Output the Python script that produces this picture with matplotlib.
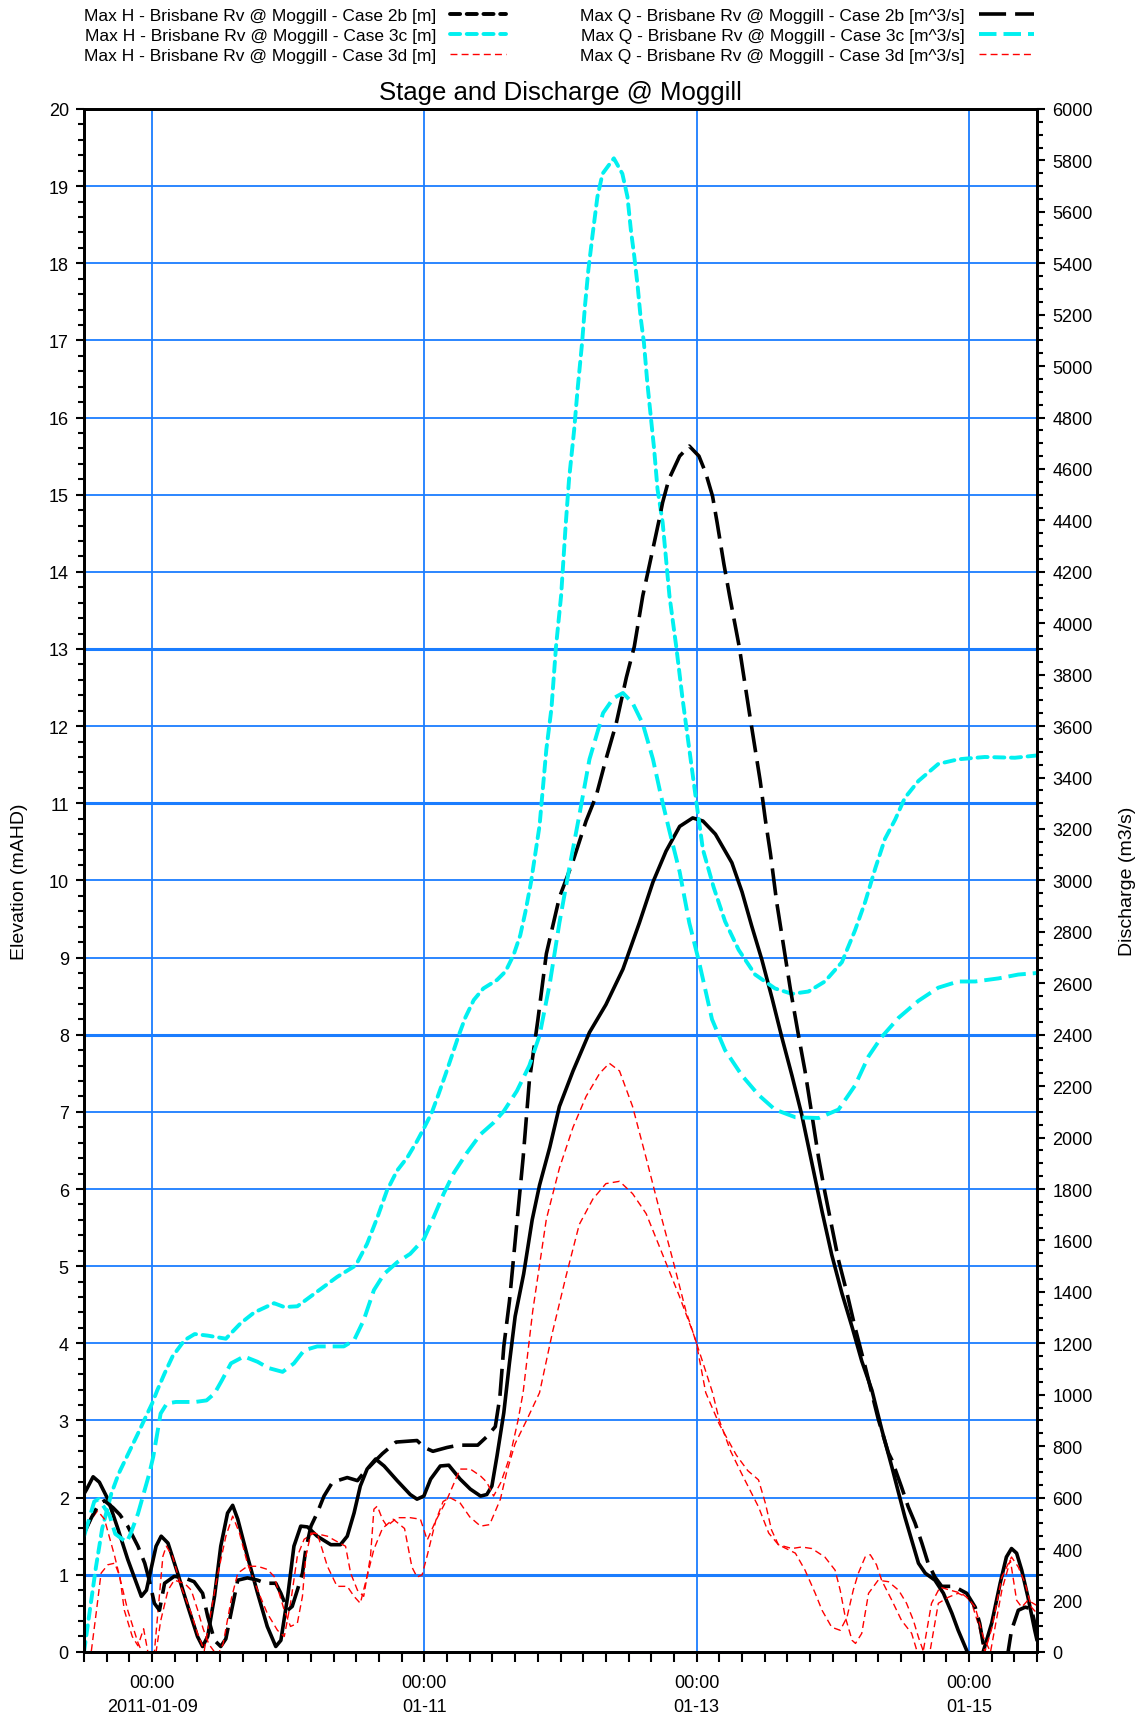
import numpy as np
import matplotlib
matplotlib.use("Agg")
import matplotlib.pyplot as plt
import matplotlib.dates as mdates
from matplotlib.lines import Line2D
from matplotlib.ticker import MultipleLocator, FixedLocator, FixedFormatter

plt.rcParams['font.family'] = ['Liberation Sans', 'DejaVu Sans']

# ---------------- data (hours since 2011-01-08 12:00) ----------------
t0 = np.datetime64('2011-01-08T12:00')

# Max H - Case 2b [m]
t_h2b = [0, 0.4, 1.6, 2.7, 4.2, 6, 7.7, 10.1, 11, 11.8, 12.7, 13.6, 14.8, 16.5, 18.3, 20, 20.9, 21.8,
         23, 24.1, 25.3, 26.2, 27.1, 28.8, 30.6, 32.3, 33.8, 34.7, 35.9, 37, 38.2, 39.4, 41.1, 43.5,
         45.2, 46.4, 47.6, 48.7, 49.9, 51.4, 52.9, 55.2, 57.5, 58.7, 59.9, 61.1, 62.8, 64.3, 66.3,
         68.1, 69.9, 71, 71.9, 72.8, 74, 75, 76, 77.5, 79, 80.3, 82.1, 83.8, 86.2, 89.1, 92, 95,
         97.9, 100.3, 102.6, 105, 107.3, 109.1, 111.3, 114.2, 116, 117.7, 119.5, 121.3, 123, 124.8,
         126.5, 128.3, 130.1, 131.8, 133.6, 135.4, 137.1, 138.9, 140.6, 142.4, 143.6, 144.7, 145.9,
         147.1, 148.3, 150, 151.5, 153, 154.1, 155.6, 156.5, 157.5, 158.5, 160, 161.5, 162.6, 163.5,
         164.4, 165.3, 166.4, 167.6, 168]
h_h2b = [2.05, 2.1, 2.27, 2.2, 1.98, 1.59, 1.2, 0.72, 0.8, 1.07, 1.37, 1.5, 1.41, 1.02, 0.59, 0.2, 0.07,
         0.2, 0.72, 1.37, 1.8, 1.9, 1.72, 1.24, 0.76, 0.33, 0.07, 0.15, 0.72, 1.37, 1.63, 1.62, 1.5,
         1.39, 1.39, 1.5, 1.8, 2.15, 2.37, 2.5, 2.41, 2.22, 2.04, 1.98, 2.02, 2.24, 2.41, 2.42, 2.24,
         2.11, 2.02, 2.04, 2.15, 2.54, 3.1, 3.75, 4.35, 4.9, 5.6, 6.05, 6.54, 7.07, 7.53, 8.03, 8.39,
         8.85, 9.45, 9.98, 10.38, 10.7, 10.81, 10.77, 10.6, 10.23, 9.85, 9.41, 8.97, 8.47, 7.97, 7.47,
         6.97, 6.34, 5.71, 5.15, 4.65, 4.21, 3.77, 3.39, 2.89, 2.4, 2.06, 1.75, 1.45, 1.15, 1.02, 0.93,
         0.76, 0.5, 0.28, 0.02, -0.2, -0.2, 0.0, 0.37, 0.89, 1.23, 1.34, 1.28, 1.06, 0.71, 0.28, 0.15]

# Max H - Case 3c [m]
t_h3c = [0, 1.1, 2.1, 3.2, 4.8, 6.1, 7.8, 9.5, 10.9, 12, 12.9, 14.2, 15.6, 17.7, 19.5, 21.8, 25, 27.6,
         30, 33.5, 35.3, 37.6, 41.1, 44.6, 47.9, 49.9, 51.7, 53.4, 55.2, 57, 58.7, 60, 61.3, 62.5,
         63.7, 64.9, 66, 67.2, 68.7, 70.4, 72.8, 74.3, 75.7, 76.9, 77.8, 78.8, 80.3, 81.5, 82.4, 83.2,
         84.1, 84.9, 85.5, 86.4, 87, 87.8, 88.3, 88.9, 89.6, 90.5, 91.4, 93.4, 94.9, 95.8, 96.4, 97,
         97.6, 98.1, 98.7, 99.3, 99.9, 100.5, 101.1, 102, 103.2, 104.4, 105.5, 106.7, 107.9, 109.1,
         111, 113, 115.4, 118.3, 121.8, 124.8, 127.7, 130.6, 133.6, 135.9, 137.7, 139.5, 141.2, 143,
         144.7, 147.1, 150.6, 154.1, 158.8, 164.1, 168]
h_h3c = [0.0, 0.58, 1.1, 1.6, 2.05, 2.31, 2.57, 2.83, 3.05, 3.22, 3.39, 3.61, 3.83, 4.04, 4.12, 4.1,
         4.06, 4.26, 4.4, 4.52, 4.47, 4.48, 4.67, 4.86, 5.01, 5.29, 5.63, 5.98, 6.24, 6.41, 6.62, 6.8,
         6.99, 7.23, 7.48, 7.74, 7.98, 8.22, 8.45, 8.6, 8.71, 8.82, 9.03, 9.29, 9.59, 9.98, 10.71, 11.7,
         12.23, 13.03, 13.69, 14.6, 15.2, 15.84, 16.36, 16.97, 17.44, 17.91, 18.34, 18.86, 19.16,
         19.36, 19.16, 18.86, 18.43, 18.09, 17.7, 17.31, 16.97, 16.45, 16.02, 15.59, 15.07, 14.64,
         13.69, 13.03, 12.36, 11.7, 11.04, 10.4, 9.91, 9.47, 9.1, 8.78, 8.6, 8.53, 8.56, 8.69, 8.94,
         9.35, 9.72, 10.16, 10.54, 10.79, 11.07, 11.29, 11.51, 11.57, 11.6, 11.59, 11.62]

# Max H - Case 3d [m]
t_h3d = [0, 1.3, 2.4, 3.6, 5.4, 7.7, 9.5, 10.5, 12.4, 13.9, 14.5, 15.6, 17.1, 18.9, 20, 21.2, 21.8,
         23.5, 25, 26.2, 27.4, 28.8, 30.6, 32.3, 34.1, 35.3, 36.4, 37.6, 38.8, 40.5, 42.9, 44.6, 46.1,
         47, 48.2, 49.3, 50.5, 51.1, 51.7, 52.6, 53.4, 55.2, 57.5, 59.3, 60.5, 62, 64, 66.3, 68.1,
         69.9, 71, 72.2, 73.5, 75.1, 76.5, 77.4, 79.1, 81.5, 83.8, 86.2, 88.5, 90.9, 92.6, 94.4, 96.7,
         99.1, 101.4, 103.8, 106.1, 107.9, 109.6, 112, 115, 117, 118.9, 120.1, 121.2, 122.4, 124.8,
         126.5, 128.3, 130.6, 132.4, 133.3, 134.2, 135.4, 136, 137.1, 138.3, 140, 141.8, 143.6, 145,
         146.2, 147.1, 148, 149, 150.6, 152.4, 154.1, 155.6, 156.5, 157.6, 158.8, 160, 161.8, 163.5,
         164.7, 165.9, 167, 168]
h_h3d = [1.5, 1.72, 1.83, 1.72, 1.24, 0.54, 0.12, -0.05, 0.0, 1.24, 1.37, 1.24, 0.85, 0.5, 0.24, 0.02,
         0.28, 0.98, 1.5, 1.76, 1.54, 1.15, 0.8, 0.5, 0.28, 0.2, 0.63, 1.24, 1.46, 1.54, 1.5, 1.43,
         1.37, 1.02, 0.8, 0.72, 1.24, 1.85, 1.89, 1.72, 1.63, 1.74, 1.74, 1.72, 1.45, 1.7, 1.98, 2.37,
         2.37, 2.28, 2.2, 2.02, 2.2, 2.54, 3.0, 3.36, 4.42, 5.61, 6.27, 6.8, 7.2, 7.5, 7.63, 7.53,
         7.07, 6.4, 5.74, 5.08, 4.42, 4.02, 3.36, 2.95, 2.55, 2.35, 2.23, 1.93, 1.58, 1.39, 1.34,
         1.36, 1.34, 1.23, 1.06, 0.8, 0.45, 0.15, 0.11, 0.24, 0.76, 0.93, 0.91, 0.8, 0.63, 0.41, 0.19,
         0.0, -0.05, 0.63, 0.71, 0.76, 0.71, 0.63, 0.37, 0.0, 0.3, 0.97, 1.23, 1.1, 0.89, 0.58, 0.5]

# Max Q - Case 2b [m^3/s]
t_q2b = [0, 0.4, 1.3, 2.4, 3.6, 5.1, 6.3, 7.7, 9.5, 10.7, 11.5, 12.4, 13.3, 14.2, 15.9, 17.7, 19.4,
         20.9, 21.8, 23, 24.1, 25, 25.9, 27.1, 28.8, 30.6, 32, 33.8, 34.7, 35.9, 36.7, 37.6, 38.5,
         39.1, 40, 41.1, 42.3, 43.8, 46.4, 48.2, 49.4, 51.1, 52.6, 55, 58.7, 60, 61.5, 64, 66, 69.4,
         71, 72.5, 73.3, 74, 75, 76.2, 77.4, 78.5, 80, 81.5, 83.8, 86.2, 88.5, 90.3, 92, 93.8, 95.6,
         97, 98.5, 100, 101.4, 102, 103.1, 105, 106.7, 108.4, 109.6, 110.8, 111.6, 112.8, 113.8,
         115.5, 117.3, 119.2, 120.1, 121, 122.1, 123.3, 124.5, 126, 127.1, 128.3, 129.5, 130.6,
         131.8, 133, 134.5, 135.9, 137.7, 140, 141.8, 142.4, 144.1, 145.3, 146.5, 147.7, 148.8, 150,
         151.2, 152.7, 154.1, 155.6, 157.1, 157.9, 158.5, 159.5, 162, 162.9, 163.5, 164.7, 165.9,
         167, 168]
q_q2b = [465, 480, 522, 567, 588, 561, 534, 489, 411, 345, 279, 189, 162, 267, 294, 288, 273, 228,
         138, 45, 21, 51, 150, 279, 288, 279, 267, 267, 228, 162, 177, 240, 306, 399, 489, 540, 606,
         660, 678, 666, 699, 738, 771, 816, 822, 795, 780, 795, 804, 804, 837, 876, 990, 1188, 1365,
         1644, 1920, 2220, 2457, 2715, 2934, 3075, 3231, 3330, 3471, 3609, 3789, 3909, 4107, 4260,
         4404, 4470, 4560, 4650, 4689, 4650, 4584, 4494, 4392, 4230, 4107, 3909, 3651, 3387, 3237,
         3105, 2916, 2748, 2580, 2391, 2259, 2091, 1920, 1788, 1656, 1524, 1395, 1263, 1110, 906,
         774, 747, 642, 564, 501, 423, 345, 291, 255, 255, 246, 228, 174, 111, 33, -60, -60, 0, 84,
         162, 174, 168, 75]

# Max Q - Case 3c [m^3/s]
t_q3c = [0, 1, 1.8, 2.6, 4.5, 5.5, 7.5, 8.2, 9.5, 10.5, 11.5, 12.2, 12.9, 13.5, 14.6, 16.2, 19.6,
         21.6, 23, 24.3, 25.9, 28.2, 30.6, 32.5, 35, 37, 38.8, 41.1, 45.8, 47.6, 49.3, 51.1, 52.9,
         55.2, 57.5, 59.9, 61.6, 63.4, 65.2, 67.5, 69.9, 72.2, 74, 76.3, 78.5, 80.3, 82.1, 83.8, 85.6,
         87.3, 89.1, 91.5, 93.3, 95, 96.7, 98.5, 100.3, 101.7, 103.2, 105, 106.7, 108.4, 110.7, 113,
         116, 118.9, 121.8, 125.4, 129.5, 133, 135.9, 138.3, 140.6, 143.6, 147.1, 150.6, 154.1,
         157.1, 161.2, 164.7, 168]
q_q3c = [450, 525, 585, 594, 531, 459, 426, 459, 537, 615, 693, 759, 849, 927, 966, 972, 972, 978,
         1005, 1056, 1122, 1149, 1128, 1104, 1089, 1122, 1173, 1188, 1188, 1212, 1290, 1407, 1470,
         1515, 1548, 1605, 1689, 1782, 1863, 1941, 2013, 2058, 2103, 2181, 2280, 2397, 2598, 2835,
         3054, 3252, 3471, 3651, 3708, 3729, 3690, 3609, 3471, 3330, 3192, 3033, 2835, 2685, 2460,
         2340, 2241, 2166, 2109, 2079, 2076, 2109, 2202, 2316, 2391, 2466, 2532, 2583, 2607, 2607,
         2619, 2634, 2640]

# Max Q - Case 3d [m^3/s]
t_q3d = [0, 1.3, 2.2, 3, 4.2, 5.4, 6.3, 7.1, 8.5, 9.5, 10.5, 11.5, 12.5, 13.5, 14.8, 15.9, 17.7,
         18.9, 20, 21, 22, 23.5, 24.5, 26, 27.1, 28.8, 30.6, 32.3, 33.5, 35.3, 36.4, 37.6, 38.5, 39.1,
         40, 41.1, 42.9, 44.6, 46.4, 47.6, 48.7, 49.9, 51.1, 52.6, 54.5, 56.5, 57.8, 58.7, 59.6, 60.5,
         62, 63.3, 64.5, 66.3, 68, 69.9, 71.5, 73.4, 74.5, 76, 78, 80.3, 82.6, 85, 87.3, 89.7, 92,
         94.4, 96.7, 99.1, 102, 104.9, 107.3, 109.1, 110.8, 112, 114, 116, 118.9, 120.7, 122.4, 125.4,
         127.1, 128.9, 130.1, 131.8, 133.3, 134.5, 135.6, 136.5, 137.7, 138.6, 139.7, 140.6, 142.4,
         144.1, 145.9, 146.8, 147.8, 149.4, 150.9, 152.7, 154.7, 155.9, 157.1, 158.5, 159.8, 161.8,
         163.3, 164.4, 165.3, 166.4, 168]
q_q3d = [-30, 6, 162, 306, 339, 345, 294, 162, 60, 24, 90, -30, -30, 120, 240, 279, 267, 240, 165,
         90, 30, -15, 30, 210, 306, 333, 333, 321, 294, 162, 99, 111, 216, 372, 462, 462, 333, 255,
         255, 216, 189, 294, 399, 480, 516, 480, 330, 291, 300, 375, 510, 585, 600, 579, 525, 489,
         495, 594, 699, 810, 900, 1008, 1245, 1464, 1662, 1761, 1821, 1830, 1782, 1704, 1545, 1386,
         1245, 1125, 1008, 900, 780, 690, 564, 462, 417, 384, 318, 228, 162, 96, 84, 135, 240, 306,
         369, 378, 339, 279, 201, 123, 72, 6, -15, 189, 252, 240, 228, 207, 174, 60, 0, 240, 357,
         201, 174, 201, 180]

labels = ['Max H - Brisbane Rv @ Moggill - Case 2b [m]',
          'Max H - Brisbane Rv @ Moggill - Case 3c [m]',
          'Max H - Brisbane Rv @ Moggill - Case 3d [m]',
          'Max Q - Brisbane Rv @ Moggill - Case 2b [m^3/s]',
          'Max Q - Brisbane Rv @ Moggill - Case 3c [m^3/s]',
          'Max Q - Brisbane Rv @ Moggill - Case 3d [m^3/s]']

x_ticks = ['2011-01-09', '2011-01-11', '2011-01-13', '2011-01-15']
x_ticklabels = ['00:00\n2011-01-09', '00:00\n01-11', '00:00\n01-13', '00:00\n01-15']
x_range = ['2011-01-08T12:00', '2011-01-15T12:00']


def to_time(hours):
    mins = np.round(np.array(hours) * 60).astype(int)
    return t0 + mins.astype('timedelta64[m]')


# ---------------- figure ----------------
fig = plt.figure(figsize=(11.45, 17.15), dpi=100)
ax = fig.add_axes([0.0734, 0.0362, 0.8323, 0.8997])
ax2 = ax.twinx()

grid_col = '#1a7dff'
ax.grid(which='major', axis='both', color=grid_col, linewidth=1.3, zorder=0)
for lev in [1, 8, 11, 13]:
    ax.axhline(lev, color=grid_col, linewidth=2.2, zorder=0)
ax.set_axisbelow(True)

cyan = '#00f0f0'
h_dash = (2.6, 1.7)
l1, = ax.plot(to_time(t_h2b), h_h2b, color='black', linewidth=2.6, solid_capstyle='round')
l2, = ax.plot(to_time(t_h3c), h_h3c, color=cyan, linewidth=2.8, dashes=h_dash, dash_capstyle='round')
l3, = ax.plot(to_time(t_h3d), h_h3d, color='red', linewidth=1.0, dashes=(5, 3))

l4, = ax2.plot(to_time(t_q2b), q_q2b, color='black', linewidth=2.6, dashes=(7.5, 2.5))
l5, = ax2.plot(to_time(t_q3c), q_q3c, color=cyan, linewidth=2.8, dashes=(4.5, 1.8))
l6, = ax2.plot(to_time(t_q3d), q_q3d, color='red', linewidth=1.0, dashes=(5, 3))

# legend sample of H 2b is drawn dashed in the original legend
h2b_key = Line2D([], [], color='black', linewidth=2.8, dashes=h_dash, dash_capstyle='round')
h3c_key = Line2D([], [], color=cyan, linewidth=2.8, dashes=h_dash, dash_capstyle='round')

# axes ranges / ticks
ax.set_xlim(np.datetime64(x_range[0]), np.datetime64(x_range[1]))
ax.set_ylim(0, 20)
ax2.set_ylim(0, 6000)

ax.xaxis.set_major_locator(FixedLocator(mdates.date2num(np.array(x_ticks, dtype='datetime64[m]'))))
ax.xaxis.set_major_formatter(FixedFormatter(x_ticklabels))
ax.xaxis.set_minor_locator(mdates.HourLocator(byhour=range(0, 24, 4)))

ax.yaxis.set_major_locator(MultipleLocator(1))
ax.yaxis.set_minor_locator(MultipleLocator(0.2))
ax2.yaxis.set_major_locator(MultipleLocator(200))
ax2.yaxis.set_minor_locator(MultipleLocator(50))

ax.tick_params(axis='both', which='major', labelsize=13, direction='out', length=6, width=1.5,
               pad=5, colors='black')
ax.tick_params(axis='both', which='minor', direction='out', length=4, width=1.5)
ax.tick_params(axis='x', which='both', length=7, pad=9)
ax2.tick_params(axis='y', which='major', labelsize=13, direction='out', length=6, width=1.5, pad=5)
ax2.tick_params(axis='y', which='minor', direction='out', length=4, width=1.5)
for lab in ax.get_xticklabels():
    lab.set_linespacing(1.5)

for sp in ax.spines.values():
    sp.set_linewidth(2)
for sp in ax2.spines.values():
    sp.set_linewidth(2)

ax.set_ylabel('Elevation (mAHD)', fontsize=14)
ax2.set_ylabel('Discharge (m3/s)', fontsize=14)
ax.yaxis.set_label_coords(-0.059, 0.5)
ax2.yaxis.set_label_coords(1.086, 0.5)
ax.set_title('Stage and Discharge @ Moggill', fontsize=18.5, pad=7)

fig.legend([h2b_key, h3c_key, l3, l4, l5, l6], labels, ncol=2, loc='upper left',
           bbox_to_anchor=(0.0734, 0.995), frameon=False, markerfirst=False, fontsize=12.5,
           handlelength=3.2, handletextpad=0.8, columnspacing=4.3, labelspacing=0.28,
           borderpad=0, borderaxespad=0)

fig.savefig('out.png', dpi=100)
